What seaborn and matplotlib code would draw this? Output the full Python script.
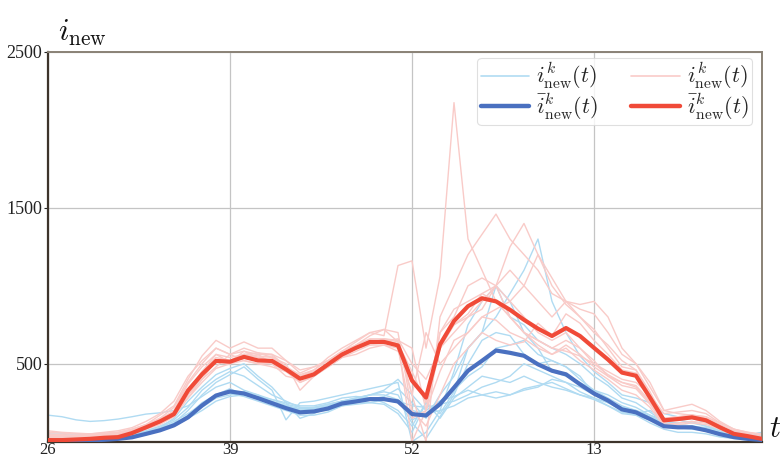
import numpy as np
import pandas as pd
import matplotlib
matplotlib.use("Agg")
import matplotlib.pyplot as plt
from matplotlib.lines import Line2D
import seaborn as sns

# ==========================================
# Data (weekly new infections, week 26 .. week 25 of next year)
# ==========================================

weeks = list(range(52))
tick_pos = [0, 13, 26, 39]
tick_labels = ["26", "39", "52", "13"]
y_ticks = [500, 1500, 2500]

blue_mean = [5, 5, 6, 8, 12, 18, 28, 50, 73, 105, 156, 232, 296,
             322, 309, 279, 247, 215, 188, 194, 213, 245, 258, 273, 273, 258,
             177, 168, 241, 347, 455, 519, 585, 570, 551, 496, 455, 432, 368,
             309, 264, 207, 188, 145, 99, 92, 92, 73, 48, 29, 18, 11]

red_mean = [10, 10, 14, 18, 25, 29, 55, 92, 130, 177, 328, 432, 518,
            513, 544, 521, 518, 464, 404, 432, 496, 559, 602, 640, 640, 617,
            392, 283, 623, 774, 869, 920, 900, 846, 782, 725, 678, 729, 678,
            602, 527, 443, 423, 283, 137, 145, 156, 137, 92, 50, 35, 18]

blue_runs = [
    [170, 160, 140, 130, 135, 145, 160, 177, 185, 200, 230, 290, 350,
     380, 330, 300, 250, 230, 200, 215, 230, 260, 280, 300, 320, 300,
     140, 180, 260, 330, 420, 480, 600, 620, 650, 560, 520, 480, 400,
     330, 280, 230, 200, 160, 120, 110, 100, 80, 60, 40, 30, 20],
    [40, 35, 30, 30, 28, 35, 40, 55, 80, 120, 200, 300, 380,
     430, 480, 400, 330, 140, 250, 260, 280, 300, 320, 340, 360, 380,
     0, 60, 200, 450, 750, 900, 1000, 800, 750, 650, 600, 560, 500,
     420, 360, 280, 250, 190, 130, 120, 130, 100, 70, 50, 40, 60],
    [20, 20, 22, 25, 30, 35, 50, 70, 100, 140, 220, 330, 400,
     450, 420, 360, 300, 260, 220, 200, 200, 230, 250, 270, 290, 340,
     250, 150, 300, 420, 600, 700, 800, 950, 1100, 1300, 900, 700, 550,
     450, 380, 300, 280, 250, 180, 160, 150, 120, 90, 70, 50, 40],
    [60, 55, 50, 45, 45, 50, 55, 65, 90, 130, 180, 240, 300,
     340, 300, 280, 260, 230, 210, 220, 240, 260, 260, 250, 240, 180,
     60, 250, 150, 280, 350, 420, 400, 380, 420, 380, 350, 330, 300,
     280, 250, 220, 200, 150, 120, 110, 100, 90, 70, 50, 40, 60],
    [10, 10, 12, 14, 18, 25, 35, 60, 90, 150, 260, 350, 430,
     470, 500, 420, 350, 250, 150, 180, 220, 260, 280, 300, 300, 270,
     120, 20, 160, 300, 500, 650, 700, 680, 560, 500, 520, 480, 420,
     300, 250, 200, 180, 200, 150, 140, 120, 100, 80, 60, 50, 40],
    [30, 30, 28, 26, 26, 30, 40, 60, 85, 115, 170, 250, 300,
     310, 290, 260, 230, 200, 170, 170, 190, 230, 240, 250, 270, 250,
     200, 180, 200, 230, 280, 300, 320, 300, 340, 360, 380, 340, 300,
     270, 230, 180, 170, 120, 80, 60, 60, 50, 30, 20, 10, 5],
    [15, 15, 16, 18, 20, 25, 35, 55, 85, 110, 160, 230, 300,
     320, 310, 280, 250, 230, 210, 210, 230, 250, 270, 300, 330, 400,
     300, 200, 260, 290, 330, 300, 280, 300, 330, 350, 400, 380, 350,
     300, 260, 220, 200, 170, 140, 100, 90, 70, 50, 30, 20, 10],
    [5, 5, 8, 10, 15, 20, 30, 45, 70, 100, 150, 220, 280,
     300, 320, 300, 270, 250, 230, 230, 250, 280, 290, 280, 250, 200,
     100, 250, 180, 320, 600, 700, 1000, 900, 700, 600, 450, 420, 380,
     330, 300, 250, 220, 170, 120, 100, 90, 80, 60, 40, 30, 20],
    [50, 45, 40, 38, 36, 40, 45, 60, 75, 100, 150, 200, 260,
     290, 300, 290, 270, 240, 220, 220, 240, 260, 270, 280, 270, 260,
     230, 220, 240, 260, 300, 350, 380, 420, 500, 460, 420, 380, 320,
     280, 230, 190, 170, 140, 110, 90, 80, 70, 50, 40, 30, 20],
]

red_runs = [
    [70, 60, 55, 50, 60, 70, 90, 130, 180, 260, 420, 520, 600,
     560, 600, 570, 560, 480, 420, 460, 540, 600, 650, 700, 680, 1130,
     1160, 600, 1060, 2175, 1300, 1100, 900, 800, 700, 650, 600, 580, 550,
     500, 450, 400, 380, 300, 180, 190, 200, 180, 120, 80, 60, 50],
    [50, 45, 40, 45, 50, 60, 80, 110, 170, 230, 400, 550, 650,
     600, 640, 600, 600, 520, 440, 480, 520, 560, 620, 680, 720, 640,
     300, 0, 800, 1000, 1200, 1330, 1460, 1300, 1200, 1100, 950, 900, 850,
     820, 700, 560, 500, 380, 200, 180, 170, 160, 120, 80, 50, 30],
    [40, 40, 35, 40, 45, 50, 70, 100, 140, 200, 370, 480, 560,
     540, 560, 570, 540, 500, 330, 420, 500, 560, 600, 620, 640, 660,
     500, 400, 600, 700, 800, 900, 1000, 1250, 1400, 1200, 1000, 880, 800,
     700, 620, 520, 460, 320, 150, 160, 170, 150, 100, 60, 40, 30],
    [30, 30, 28, 30, 35, 40, 60, 100, 150, 190, 300, 420, 520,
     500, 540, 560, 500, 450, 420, 450, 500, 560, 600, 650, 640, 620,
     300, 700, 500, 600, 700, 800, 850, 900, 1000, 1200, 1050, 900, 800,
     720, 600, 480, 460, 300, 130, 140, 150, 140, 100, 50, 40, 20],
    [20, 20, 25, 30, 40, 50, 70, 100, 140, 190, 280, 400, 520,
     520, 560, 550, 540, 470, 380, 420, 480, 540, 580, 620, 620, 600,
     150, 200, 600, 750, 800, 850, 1000, 1100, 1000, 900, 800, 900, 880,
     900, 800, 600, 500, 350, 200, 220, 240, 200, 130, 80, 60, 40],
    [15, 15, 18, 22, 30, 35, 60, 90, 120, 160, 300, 400, 480,
     560, 520, 500, 500, 420, 400, 430, 480, 540, 600, 630, 660, 650,
     600, 200, 700, 800, 1000, 1050, 1000, 900, 800, 700, 650, 700, 600,
     520, 420, 380, 350, 250, 120, 150, 170, 160, 110, 70, 50, 30],
    [60, 55, 50, 50, 55, 60, 80, 110, 150, 220, 380, 500, 600,
     560, 580, 560, 560, 520, 460, 480, 520, 580, 640, 700, 720, 700,
     200, 100, 300, 500, 600, 700, 650, 620, 640, 760, 680, 820, 760,
     650, 560, 460, 440, 300, 150, 160, 170, 140, 90, 50, 40, 30],
    [45, 40, 40, 42, 48, 55, 65, 90, 130, 180, 330, 450, 540,
     520, 560, 540, 550, 480, 430, 460, 520, 580, 620, 660, 660, 640,
     0, 200, 450, 650, 700, 800, 780, 700, 660, 600, 560, 620, 560,
     480, 420, 360, 340, 240, 110, 120, 130, 120, 80, 40, 30, 20],
    [25, 25, 30, 35, 40, 45, 60, 80, 110, 160, 280, 380, 470,
     500, 520, 500, 480, 450, 380, 420, 480, 540, 560, 600, 620, 580,
     400, 300, 620, 750, 820, 950, 1000, 800, 700, 620, 560, 600, 520,
     460, 400, 330, 300, 220, 100, 110, 120, 110, 80, 40, 30, 20],
    [35, 35, 40, 45, 50, 55, 75, 100, 140, 180, 310, 450, 560,
     510, 580, 540, 520, 470, 410, 440, 500, 560, 600, 640, 650, 630,
     450, 250, 700, 850, 900, 950, 900, 800, 700, 650, 600, 650, 600,
     500, 430, 380, 360, 260, 130, 140, 150, 130, 90, 50, 30, 20],
]

# ==========================================
# Long format tables for seaborn
# ==========================================

def to_long(runs):
    rows = []
    for k, run in enumerate(runs):
        for t, v in zip(weeks, run):
            rows.append({"t": t, "i": v, "k": k})
    return pd.DataFrame(rows)

blue_df = to_long(blue_runs)
red_df = to_long(red_runs)

# ==========================================
# Plot
# ==========================================

sns.set_theme(style="white")
plt.rcParams["font.family"] = ["Liberation Serif", "DejaVu Serif"]
plt.rcParams["mathtext.fontset"] = "cm"

light_blue = "#b0dbf2"
light_red = "#f9cbc8"
dark_blue = "#4a70c0"
dark_red = "#f04a38"

fig = plt.figure(figsize=(7.82, 4.62), dpi=100)
ax = fig.add_axes([0.0614, 0.044, 0.913, 0.8435])

sns.lineplot(data=blue_df, x="t", y="i", units="k", estimator=None,
             color=light_blue, lw=1.0, ax=ax, zorder=2)
sns.lineplot(data=red_df, x="t", y="i", units="k", estimator=None,
             color=light_red, lw=1.0, ax=ax, zorder=2)
sns.lineplot(x=weeks, y=blue_mean, color=dark_blue, lw=3.0, ax=ax, zorder=3)
sns.lineplot(x=weeks, y=red_mean, color=dark_red, lw=3.0, ax=ax, zorder=4)

ax.set_xlim(0, 51)
ax.set_ylim(0, 2500)
ax.set_xticks(tick_pos)
ax.set_xticklabels(tick_labels)
ax.set_yticks(y_ticks)
ax.set_yticklabels([str(v) for v in y_ticks])
ax.tick_params(axis="y", labelsize=13, colors="#222222", length=3,
               width=0.8, pad=1, left=True)
ax.tick_params(axis="x", labelsize=12, colors="#222222", length=0, pad=0)
ax.grid(True, color="#c4c4c4", lw=0.9, zorder=0)
ax.set_xlabel("")
ax.set_ylabel("")

for side in ["left", "bottom"]:
    ax.spines[side].set_color("#3d342b")
    ax.spines[side].set_linewidth(1.6)
for side in ["top", "right"]:
    ax.spines[side].set_color("#8a8276")
    ax.spines[side].set_linewidth(1.4)

fig.text(0.074, 0.912, r"$i_{\rm new}$", fontsize=22, color="#111111")
fig.text(0.983, 0.055, r"$t$", fontsize=22, color="#111111")

# Legend
handles = [
    Line2D([], [], color=light_blue, lw=1.2),
    Line2D([], [], color=dark_blue, lw=3.2),
    Line2D([], [], color=light_red, lw=1.2),
    Line2D([], [], color=dark_red, lw=3.2),
]
labels = [r"$i^k_{\rm new}(t)$", r"$\bar{i}^k_{\rm new}(t)$",
          r"$i^k_{\rm new}(t)$", r"$\bar{i}^k_{\rm new}(t)$"]
leg = ax.legend(handles, labels, ncol=2, loc="upper right", fontsize=16,
                frameon=True, fancybox=True, handlelength=2.2,
                columnspacing=1.5, labelspacing=0.0, handletextpad=0.3,
                borderpad=0.15, bbox_to_anchor=(1.002, 1.014))
leg.get_frame().set_edgecolor("#d8d8d8")
leg.get_frame().set_linewidth(0.8)

fig.savefig("out.png", dpi=100)
